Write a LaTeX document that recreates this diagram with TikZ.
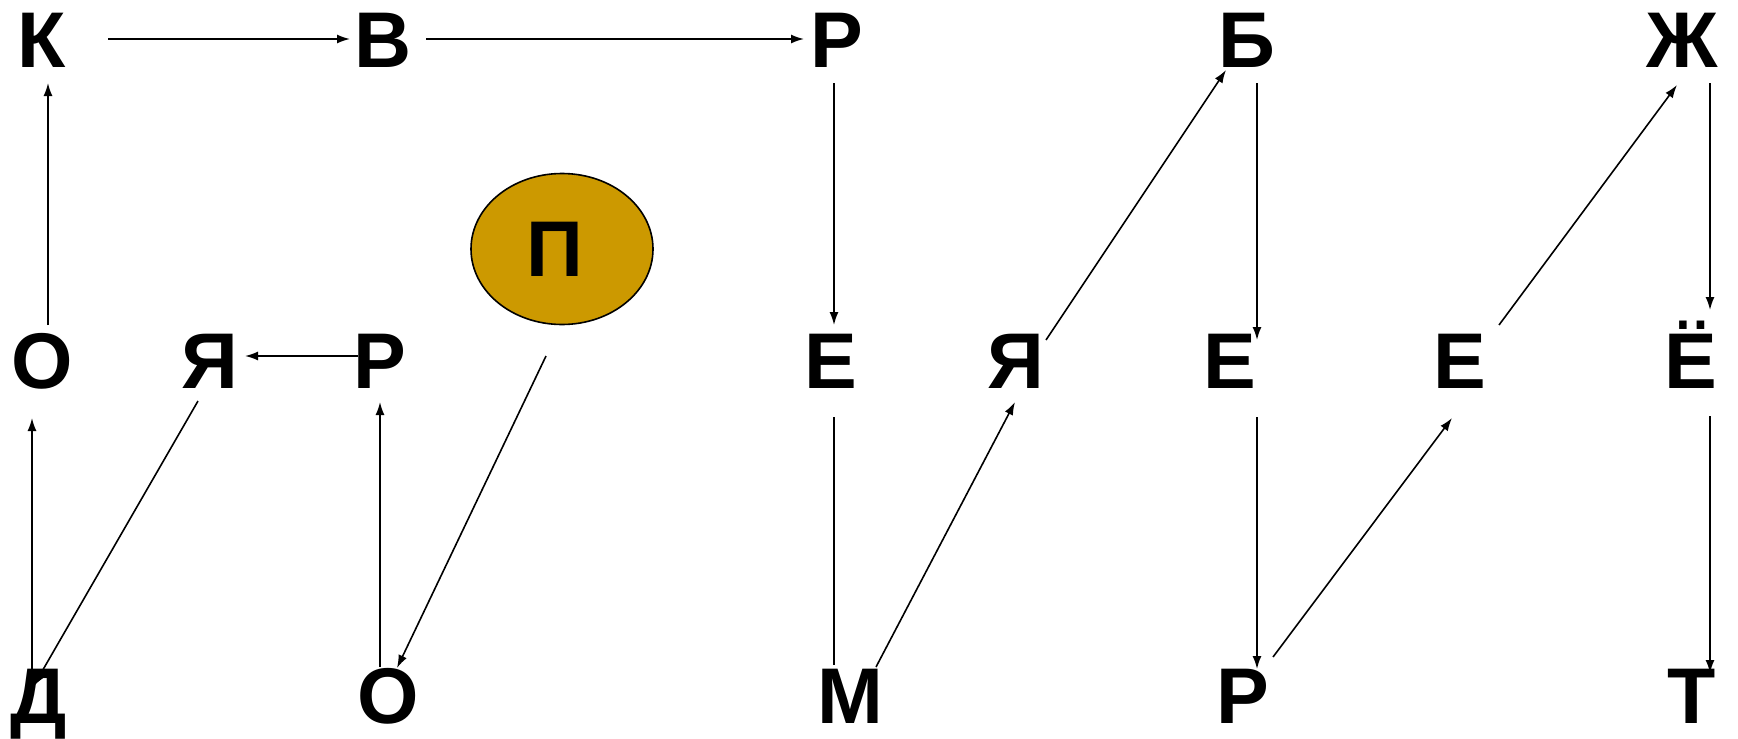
\documentclass[tikz,border=0pt]{standalone}
\usepackage{fontspec}
\setmainfont{Liberation Sans}
\usetikzlibrary{arrows.meta,shapes.geometric}
\definecolor{bubblegold}{HTML}{CC9900}

\begin{document}
\begin{tikzpicture}[
    x=1pt, y=-1pt,
    letter/.style={inner sep=0pt, anchor=base, font=\fontsize{79}{79}\selectfont\bfseries},
    bubble/.style={ellipse, draw, line width=1.6pt, fill=bubblegold, inner sep=0pt,
                   minimum width=182pt, minimum height=151pt,
                   font=\fontsize{79}{79}\selectfont\bfseries},
    link/.style={-{Latex[length=13pt,width=9pt]}, line width=1.6pt},
    plain/.style={line width=1.6pt}
]
\useasboundingbox (0,0) rectangle (1738,739);

\node[letter] (k1)  at (42,67)   {К};
\node[letter] (v1)  at (383,67)  {В};
\node[letter] (r1)  at (837,67)  {Р};
\node[letter] (b1)  at (1247,67) {Б};
\node[letter] (zh1) at (1682,67) {Ж};

\node[letter] (o2)  at (42,388)   {О};
\node[letter] (ya2) at (210,388)  {Я};
\node[letter] (r2)  at (380,388)  {Р};
\node[letter] (e2)  at (831,388)  {Е};
\node[letter] (ya3) at (1016,388) {Я};
\node[letter] (e3)  at (1230,388) {Е};
\node[letter] (e4)  at (1460,388) {Е};
\node[letter] (yo)  at (1691,388) {Ё};

\node[letter] (d3)  at (39,723)   {Д};
\node[letter] (o3)  at (388,723)  {О};
\node[letter] (m3)  at (850,723)  {М};
\node[letter] (r3)  at (1243,723) {Р};
\node[letter] (t3)  at (1692,723) {Т};

\node[bubble] (p) at (562,249) {П\kern14pt};

\draw[link] ([shift={(66,-28)}]k1.base)  -- ([shift={(-33,-28)}]v1.base);
\draw[link] ([shift={(43,-28)}]v1.base)  -- ([shift={(-33,-28)}]r1.base);
\draw[link] ([shift={(-3,16)}]r1.base)   -- ([shift={(3,-63)}]e2.base);
\draw[link] ([shift={(30,-48)}]ya3.base) -- ([shift={(-21,3)}]b1.base);
\draw[link] ([shift={(10,16)}]b1.base)   -- ([shift={(27,-48)}]e3.base);
\draw[link] ([shift={(39,-63)}]e4.base)  -- ([shift={(-5,18)}]zh1.base);
\draw[link] ([shift={(28,16)}]zh1.base)  -- ([shift={(19,-78)}]yo.base);
\draw[link] ([shift={(6,-63)}]o2.base)   -- ([shift={(6,16)}]k1.base);
\draw[link] ([shift={(-22,-32)}]r2.base) -- ([shift={(35,-32)}]ya2.base);
\draw[link] ([shift={(-7,-47)}]d3.base)  -- ([shift={(-10,30)}]o2.base);
\draw[link] ([shift={(-12,13)}]ya2.base) -- ([shift={(-6,-36)}]d3.base);
\draw[link] ([shift={(-8,-56)}]o3.base)  -- ([shift={(0,14)}]r2.base);
\draw[link] ([shift={(-16,107)}]p.center) -- ([shift={(9,-55)}]o3.base);
\draw[plain] ([shift={(3,29)}]e2.base)   -- ([shift={(-16,-58)}]m3.base);
\draw[link] ([shift={(26,-56)}]m3.base)  -- ([shift={(-1,14)}]ya3.base);
\draw[link] ([shift={(27,29)}]e3.base)   -- ([shift={(14,-54)}]r3.base);
\draw[link] ([shift={(30,-66)}]r3.base)  -- ([shift={(-8,30)}]e4.base);
\draw[link] ([shift={(19,28)}]yo.base)   -- ([shift={(18,-50)}]t3.base);

\end{tikzpicture}
\end{document}
